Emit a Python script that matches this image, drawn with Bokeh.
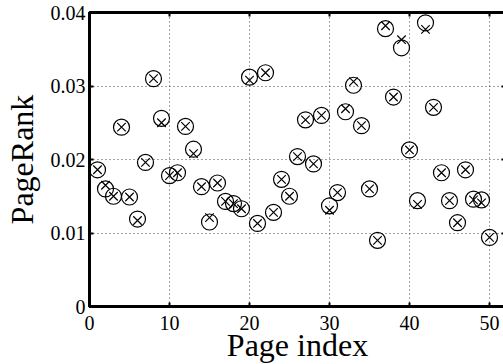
from bokeh.plotting import figure
from bokeh.models import LinearAxis, FixedTicker, Range1d
from bokeh.embed import file_html
from bokeh.resources import INLINE

# ---- data ----
page_index = list(range(1, 51))
rank_circle = [0.0186, 0.0160, 0.0150, 0.0244, 0.0149, 0.0119, 0.0196, 0.0310, 0.0256, 0.0178,
               0.0182, 0.0245, 0.0214, 0.0163, 0.0115, 0.0168, 0.0143, 0.0140, 0.0133, 0.0312,
               0.0113, 0.0318, 0.0128, 0.0173, 0.0150, 0.0204, 0.0254, 0.0194, 0.0260, 0.0137,
               0.0155, 0.0265, 0.0301, 0.0246, 0.0160, 0.0090, 0.0378, 0.0285, 0.0352, 0.0213,
               0.0144, 0.0386, 0.0271, 0.0182, 0.0144, 0.0114, 0.0186, 0.0146, 0.0145, 0.0094]
rank_cross = [0.0186, 0.0165, 0.0150, 0.0244, 0.0149, 0.0117, 0.0196, 0.0310, 0.0250, 0.0178,
              0.0182, 0.0245, 0.0208, 0.0163, 0.0121, 0.0168, 0.0143, 0.0140, 0.0133, 0.0308,
              0.0113, 0.0318, 0.0128, 0.0173, 0.0150, 0.0204, 0.0254, 0.0194, 0.0260, 0.0131,
              0.0155, 0.0269, 0.0306, 0.0246, 0.0160, 0.0090, 0.0382, 0.0285, 0.0363, 0.0213,
              0.0139, 0.0377, 0.0271, 0.0182, 0.0144, 0.0114, 0.0186, 0.0145, 0.0141, 0.0094]
x_ticks = [0, 10, 20, 30, 40, 50]
y_ticks = [0, 0.01, 0.02, 0.03, 0.04]
y_tick_labels = ["0", "0.01", "0.02", "0.03", "0.04"]
x_title = "Page index"
y_title = "PageRank"

FONT = "Liberation Serif"
TICK_FONT = "'Liberation Serif', serif"

p = figure(frame_width=416, frame_height=294, output_backend="svg", toolbar_location=None,
           x_range=Range1d(0, 52), y_range=Range1d(0, 0.04),
           min_border_left=84, min_border_right=0, min_border_top=12, min_border_bottom=56)
p.background_fill_color = "white"
p.border_fill_color = "white"
p.outline_line_color = "black"
p.outline_line_width = 3

bottom = p.below[0]
left = p.left[0]
bottom.axis_label = x_title
left.axis_label = y_title

top = LinearAxis()
right = LinearAxis()
p.add_layout(top, "above")
p.add_layout(right, "right")

for ax in (bottom, top):
    ax.ticker = FixedTicker(ticks=x_ticks)
for ax in (left, right):
    ax.ticker = FixedTicker(ticks=y_ticks)
left.major_label_overrides = {t: s for t, s in zip(y_ticks, y_tick_labels)}

for ax in (bottom, left, top, right):
    ax.axis_line_color = "black"
    ax.axis_line_width = 3
    ax.major_tick_in = 4
    ax.major_tick_out = 0
    ax.major_tick_line_width = 2
    ax.major_tick_line_color = "black"
    ax.minor_tick_line_color = None
    ax.major_label_text_font = TICK_FONT
    ax.major_label_text_font_size = "20px"
    ax.major_label_text_color = "black"
    ax.axis_label_text_font = FONT
    ax.axis_label_text_font_size = "32px"
    ax.axis_label_text_font_style = "normal"
    ax.axis_label_text_color = "black"

top.major_label_overrides = {t: "" for t in x_ticks}
right.major_label_overrides = {t: "" for t in y_ticks}
for ax in (top, right):
    ax.major_label_standoff = 0
    ax.major_label_text_font_size = "1px"
    ax.axis_line_color = None

bottom.major_label_standoff = 9
bottom.axis_label_standoff = -6
left.major_label_standoff = 4
left.axis_label_standoff = 8

p.xgrid.ticker = FixedTicker(ticks=x_ticks)
p.ygrid.ticker = FixedTicker(ticks=y_ticks)
for g in (p.xgrid, p.ygrid):
    g.grid_line_color = "#444444"
    g.grid_line_dash = "1 3"
    g.grid_line_width = 1

p.scatter(page_index, rank_circle, marker="circle", size=16, fill_color=None,
          line_color="black", line_width=1.2)
p.scatter(page_index, rank_cross, marker="x", size=12,
          line_color="black", line_width=1.2)

open("out.html", "w").write(file_html(p, INLINE))
